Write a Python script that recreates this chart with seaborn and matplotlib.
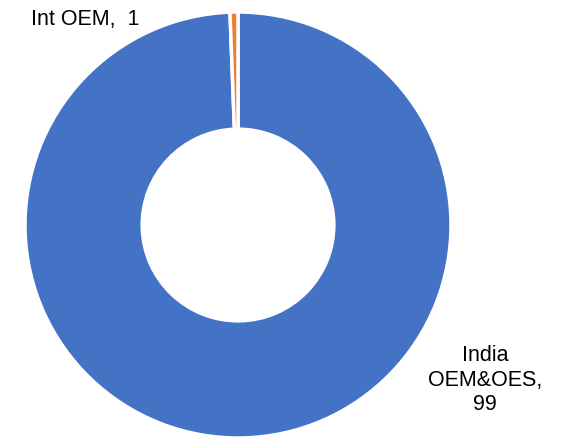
import matplotlib
matplotlib.use("Agg")
import matplotlib.pyplot as plt
import seaborn as sns

categories = ["India OEM&OES", "Int OEM"]
values = [99.4, 0.6]
label_texts = ["India\nOEM&OES,\n99", "Int OEM,  1"]
colors = ["#4472C4", "#ED7D31"]

sns.set_theme(style="white")
plt.rcParams["font.family"] = ["Liberation Sans", "DejaVu Sans"]

fig = plt.figure(figsize=(5.62, 4.38), dpi=100)
ax = fig.add_axes([0.0445, 0.0, 0.758, 0.9726])
wedges, _ = ax.pie(values, colors=colors, startangle=90, counterclock=False,
                   radius=1.0,
                   wedgeprops=dict(width=0.55, edgecolor="white", linewidth=2.5))
for w in wedges:
    w.set_clip_on(False)
ax.set_xlim(-1, 1)
ax.set_ylim(-1, 1)
ax.set_aspect("equal")
ax.axis("off")

ax.text(-0.718, 0.967, label_texts[1], ha="center", va="center", fontsize=15.5,
        color="black", clip_on=False)
ax.text(1.16, -0.728, label_texts[0], ha="center", va="center", fontsize=15.5,
        color="black", linespacing=1.2, clip_on=False)

fig.savefig("out.png", dpi=100)
